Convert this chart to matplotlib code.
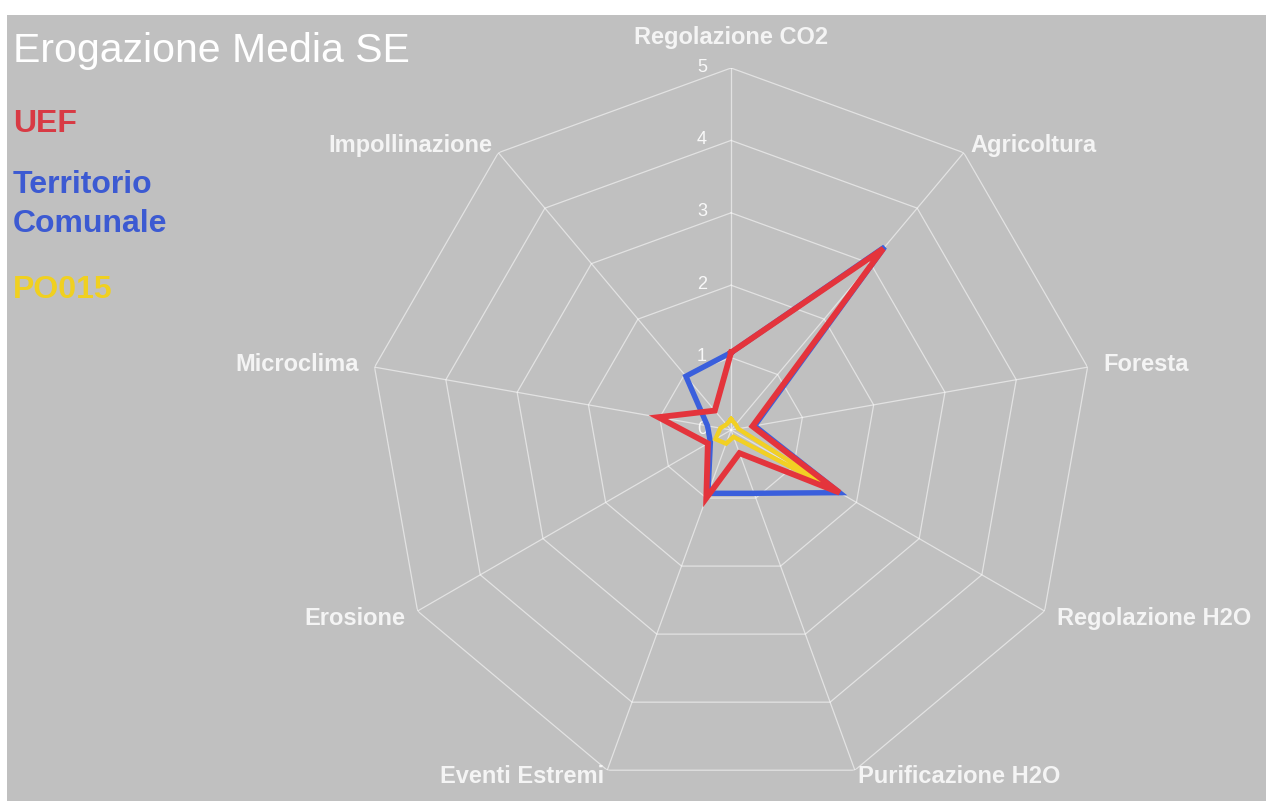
import numpy as np
import matplotlib
matplotlib.use('Agg')
import matplotlib.pyplot as plt
from matplotlib.patches import Rectangle

plt.rcParams['font.family'] = ['Liberation Sans', 'DejaVu Sans']

categories = ['Regolazione CO2', 'Agricoltura', 'Foresta', 'Regolazione H2O',
              'Purificazione H2O', 'Eventi Estremi', 'Erosione', 'Microclima',
              'Impollinazione']
uef = [1.07, 3.27, 0.30, 1.73, 0.34, 1.00, 0.37, 1.02, 0.35]
territorio = [1.07, 3.30, 0.33, 1.73, 0.93, 0.93, 0.33, 0.33, 0.97]
po015 = [0.15, 0.10, 0.10, 1.70, 0.10, 0.20, 0.25, 0.15, 0.10]
levels = [0, 1, 2, 3, 4, 5]

bg = '#c0c0c0'
col_uef = '#e4343c'
col_terr = '#3a5fdc'
col_po = '#f2d024'

n = len(categories)
theta = np.arange(n) * 2 * np.pi / n
theta_c = np.append(theta, theta[0])

fig = plt.figure(figsize=(12.66, 8.01), dpi=100, facecolor='white')
fig.patches.append(Rectangle((7 / 1266, 0), 1, (801 - 15) / 801,
                             transform=fig.transFigure, facecolor=bg,
                             edgecolor='none', zorder=-10))

ax = fig.add_axes([0.2915, 0.0112, 0.5719, 0.9039], projection='polar')
ax.set_facecolor('none')
ax.set_theta_offset(np.pi / 2)
ax.set_theta_direction(-1)
ax.set_ylim(0, 5)
ax.grid(False)
ax.spines['polar'].set_visible(False)
ax.set_xticks([])
ax.set_yticks([])

# polygon grid and spokes
for r in levels[1:]:
    ax.plot(theta_c, [r] * (n + 1), color='white', lw=0.9, alpha=0.55, zorder=1)
for t in theta:
    ax.plot([t, t], [0, 5], color='white', lw=0.9, alpha=0.55, zorder=1)

for r in levels:
    ax.annotate(str(r), xy=(0, r), xytext=(-29, 1), textcoords='offset pixels',
                ha='center', va='center', fontsize=13, color='white', alpha=0.9)

# series
ax.plot(theta_c, territorio + territorio[:1], color=col_terr, lw=3.9, zorder=3,
        solid_joinstyle='miter')
ax.plot(theta_c, po015 + po015[:1], color=col_po, lw=3.2, zorder=4,
        solid_joinstyle='miter')
ax.plot(theta_c, uef + uef[:1], color=col_uef, lw=4.2, zorder=5,
        solid_joinstyle='miter')

# category labels
label_pos = {
    'Regolazione CO2': (0, 'center', 'center', 31),
    'Agricoltura': (1, 'left', 'center', 10),
    'Foresta': (2, 'left', 'center', 16),
    'Regolazione H2O': (3, 'left', 'center', 14),
    'Purificazione H2O': (4, 'left', 'center', 10),
    'Eventi Estremi': (5, 'right', 'center', 10),
    'Erosione': (6, 'right', 'center', 14),
    'Microclima': (7, 'right', 'center', 16),
    'Impollinazione': (8, 'right', 'center', 10),
}
for name, (i, ha, va, off) in label_pos.items():
    t = theta[i]
    dx = off * np.sin(t)
    dy = off * np.cos(t)
    if i in (4, 5):
        dy = -6
    ax.annotate(name, xy=(t, 5), xytext=(dx, dy), textcoords='offset pixels',
                ha=ha, va=va, fontsize=17, fontweight='bold', color='#f4f4f4')

fig.text(13 / 1266, 1 - 62 / 801, 'Erogazione Media SE', fontsize=29.5,
         color='white', ha='left', va='baseline')
fig.text(13 / 1266, 1 - 132 / 801, 'UEF', fontsize=23, fontweight='bold',
         color='#d83a44', ha='left', va='baseline')
fig.text(13 / 1266, 1 - 193 / 801, 'Territorio', fontsize=23, fontweight='bold',
         color='#3c5ad2', ha='left', va='baseline')
fig.text(13 / 1266, 1 - 232 / 801, 'Comunale', fontsize=23, fontweight='bold',
         color='#3c5ad2', ha='left', va='baseline')
fig.text(13 / 1266, 1 - 298 / 801, 'PO015', fontsize=23, fontweight='bold',
         color='#f0d020', ha='left', va='baseline')

fig.savefig('out.png', dpi=100, facecolor=fig.get_facecolor())
